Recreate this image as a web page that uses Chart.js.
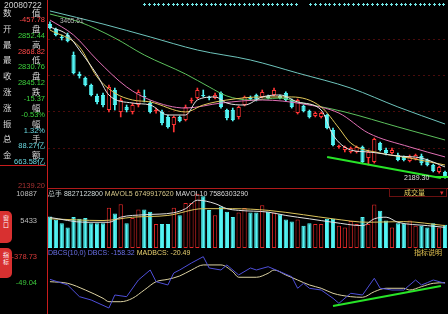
<!DOCTYPE html>
<html>
<head>
<meta charset="utf-8">
<script src="https://cdn.jsdelivr.net/npm/chart.js@4.4.1/dist/chart.umd.min.js"></script>
<style>
body{margin:0;background:#000;width:448px;height:314px;overflow:hidden;position:relative;font-family:"Liberation Sans",Arial,sans-serif}
canvas{position:absolute;left:0}
.t{position:absolute;white-space:nowrap;line-height:1}
.cn{font-family:"Noto Sans CJK SC",sans-serif;font-size:8.5px;color:#d8d8d8}
.num{font-size:7.5px;width:45px;left:0;text-align:right}
.tab{position:absolute;left:0;width:12px;background:#d83030;border-radius:0 5px 5px 0;color:#fff;font-family:"Noto Sans CJK SC",sans-serif;font-size:6px;line-height:7px;text-align:center;padding-top:3px;box-sizing:border-box}
</style>
</head>
<body>
<canvas id="main" width="448" height="188" style="top:0"></canvas>
<canvas id="vol" width="448" height="60" style="top:188px"></canvas>
<canvas id="macd" width="448" height="66" style="top:248px"></canvas>
<div id="overlay"></div>
<script>
// daily candles (price)
var candleOpen  = [3459,3418,3353,3369,3205,3049,3016,2959,2869,2877,2754,2918,2738,2779,2738,2795,2869,2811,2746,2738,2697,2631,2697,2672,2828,2852,2877,2861,2852,2893,2754,2754,2697,2795,2852.44,2877,2861,2869,2877,2869,2893,2836,2729,2787,2746,2705,2697,2713,2590,2451,2426,2410,2410,2451,2360,2328,2483,2426,2401,2385,2369,2336,2352,2377,2344,2303,2246,2246];
var candleHigh  = [3476,3426,3369,3385,3230,3066,3025,2967,2885,2893,2959,2934,2852,2795,2811,2918,2918,2828,2770,2754,2713,2705,2705,2795,2852,2934,2918,2869,2893,2902,2762,2770,2787,2869,2868.82,2885,2918,2877,2934,2877,2902,2844,2844,2795,2754,2738,2738,2721,2606,2467,2459,2451,2459,2459,2426,2524,2491,2442,2442,2401,2377,2385,2393,2393,2352,2311,2295,2254];
var candleLow   = [3418,3361,3328,3312,3049,3016,2951,2869,2803,2779,2738,2754,2697,2738,2721,2779,2820,2729,2729,2631,2606,2574,2656,2664,2811,2844,2861,2836,2844,2770,2672,2664,2680,2787,2830.76,2828,2852,2844,2869,2844,2828,2770,2721,2738,2688,2697,2688,2598,2459,2442,2410,2401,2401,2319,2303,2319,2418,2385,2393,2336,2336,2328,2344,2303,2295,2246,2237,2196];
var candleClose = [3426,3369,3344,3320,3057,3033,2959,2877,2820,2795,2943,2795,2836,2754,2795,2902,2861,2738,2754,2647,2615,2697,2664,2779,2836,2918,2869,2852,2877,2779,2688,2672,2779,2861,2845.12,2836,2902,2852,2918,2852,2836,2779,2836,2746,2697,2729,2729,2606,2467,2459,2451,2442,2451,2328,2410,2516,2426,2401,2426,2344,2344,2369,2385,2319,2303,2254,2287,2205];
var volumes     = [6343,5643,4943,4103,6203,5853,5993,4943,4943,4943,8093,6903,8793,4943,5993,7743,7743,7253,4803,4803,4803,8093,6553,9003,9003,10887,10403,7603,6553,8303,7253,6203,7113,8023,7113,7113,8583,7253,7113,6763,5713,5293,5713,4453,4943,4803,4803,5853,5853,4453,4103,5433,4803,6203,4803,8723,7463,5503,4103,4943,4943,5503,4453,4453,4103,4943,4103,4663];

// moving averages: [day index, value]
var ma5  = [[0,3435],[3,3369],[5,3246],[8,3041],[10,2877],[14,2811],[17,2795],[20,2713],[23,2713],[25,2836],[28,2861],[30,2811],[33,2795],[36,2861],[39,2877],[42,2820],[46,2754],[48,2549],[51,2426],[54,2410],[59,2377],[63,2360],[67,2287]];
var ma10 = [[0,3410],[5,3271],[8,3025],[11,2893],[14,2836],[17,2820],[23,2738],[26,2795],[30,2836],[36,2861],[41,2861],[46,2779],[49,2606],[51,2483],[56,2401],[61,2360],[67,2303]];
var ma20 = [[0,3492],[4,3369],[8,3164],[13,2943],[17,2836],[23,2770],[29,2811],[36,2836],[43,2803],[49,2729],[54,2565],[61,2451],[67,2369]];
var ma30 = [[0,3541],[5,3476],[11,3344],[16,3205],[23,3049],[27,2943],[30,2869],[34,2836],[39,2852],[42,2820],[50,2738],[59,2615],[67,2508]];
var ma60 = [[0,3566],[9,3459],[17,3353],[25,3246],[34,3164],[42,3057],[51,2934],[59,2779],[67,2639]];
var trendMain = [[47,2369],[66.3,2196]];
var mainGrid = [3328,3033,2738,2442];

var mavol5  = [[0,6120],[6,5160],[10,5160],[12,6180],[16,6670],[21,7080],[23,7890],[25,9590],[28,8910],[30,7890],[32,7550],[37,7200],[40,6530],[44,5850],[48,5160],[53,4490],[55,5850],[57,6180],[59,5160],[64,4490],[67,4140]];
var mavol10 = [[0,5850],[9,5510],[14,6180],[20,6530],[26,7890],[31,7890],[37,7550],[43,6670],[48,5850],[54,5160],[60,5300],[67,4490]];
var volTicks = [5433,10887];

var dbcs   = [[0,15],[3,-76],[5,-264],[7,-318],[10,-446],[11,-237],[13,-264],[15,4],[17,165],[18,-23],[20,-76],[21,117],[22,165],[24,278],[26,379],[27,197],[29,165],[30,246],[32,85],[34,197],[35,165],[37,218],[39,138],[41,57],[42,-129],[43,-49],[44,-129],[46,-157],[48,-290],[49,-371],[51,-210],[53,-237],[55,32],[56,-129],[58,-157],[60,-157],[62,4],[63,-76],[64,-39],[65,4],[67,-49]];
var madbcs = [[0,-23],[3,-49],[6,-157],[9,-290],[10,-345],[12,-345],[14,-290],[16,-157],[18,-23],[20,15],[22,69],[24,165],[26,246],[29,246],[31,138],[32,48],[35,48],[37,112],[38,165],[40,85],[42,4],[44,-76],[46,-129],[48,-210],[51,-264],[53,-274],[55,-184],[57,-129],[60,-129],[61,-157],[63,-103],[65,-49],[67,-39]];
var trendMacd = [[48,-414],[66.3,-92]];
var macdTickValues = [378.73,-49.04];
var macdTickLabels = ['-378.73','-49.04'];

var infoLabels = ['数值','开盘','最高','最低','收盘','涨跌','涨幅','振幅','总手','金额'];
var infoValues = ['-457.78','2852.44','2868.82','2830.76','2845.12','-15.37','-0.53%','1.32%','88.27亿','663.58亿'];
var infoColors = ['#ff4848','#3cd23c','#ff4848','#3cd23c','#3cd23c','#3cd23c','#3cd23c','#6ad8e0','#6ad8e0','#6ad8e0'];

var CYAN = '#52f4f4', RED = '#ff3434';
var idx = candleOpen.map(function (_, i) { return i; });
function isUp(i) { return candleClose[i] >= candleOpen[i]; }
function pts(a) { return a.map(function (p) { return {x: p[0], y: p[1]}; }); }
function fixAxis(s) { s.width = 47; s.paddingTop = 0; s.paddingBottom = 0; }
function line(data, color, w, smooth) {
  return {type: 'line', data: pts(data), borderColor: color, borderWidth: w || 1, pointRadius: 0,
    cubicInterpolationMode: smooth ? 'monotone' : 'default', tension: 0, order: 0};
}
var xScale = {type: 'linear', min: -0.5, max: 67.5, offset: false, display: false};
var base = {
  responsive: false, animation: false, devicePixelRatio: 1,
  layout: {padding: 0},
  plugins: {legend: {display: false}, tooltip: {enabled: false}}
};

var dots = {
  id: 'dots',
  afterDraw: function (chart) {
    var c = chart.ctx;
    c.save();
    c.fillStyle = '#70e4e4';
    for (var x = 144; x < 446; x += 4.75) {
      if (x > 296 && x < 306) continue;
      var px = Math.round(x);
      c.fillRect(px - 1, 4, 3, 1);
      c.fillRect(px, 3, 1, 3);
    }
    c.restore();
  }
};

new Chart(document.getElementById('main'), {
  type: 'bar',
  data: {datasets: [
    line(ma5, '#e4e4e4', 1, true),
    line(ma10, '#e2c85a', 1, true),
    line(ma20, '#e070b4', 1, true),
    line(ma30, '#5cc05c', 1, true),
    line(ma60, '#6ec4bc', 1, true),
    line(trendMain, '#28e428', 2, false),
    {data: idx.map(function (i) { return {x: i, y: [candleOpen[i], candleClose[i]]}; }),
     backgroundColor: idx.map(function (i) { return isUp(i) ? '#000' : CYAN; }),
     borderColor: idx.map(function (i) { return isUp(i) ? RED : CYAN; }),
     borderWidth: 1, borderSkipped: false, grouped: false,
     categoryPercentage: 1, barPercentage: 0.72, order: 1},
    {data: idx.map(function (i) { return {x: i, y: [candleLow[i], candleHigh[i]]}; }),
     backgroundColor: idx.map(function (i) { return isUp(i) ? RED : CYAN; }),
     barThickness: 1, grouped: false, order: 2}
  ]},
  options: Object.assign({}, base, {
    scales: {
      x: xScale,
      y: {min: 2114.4, max: 3656, afterFit: fixAxis,
          afterBuildTicks: function (s) { s.ticks = mainGrid.map(function (v) { return {value: v}; }); },
          ticks: {display: false},
          grid: {color: '#4a0c0c', drawTicks: false},
          border: {display: true, color: '#c81c1c', dash: [2, 3]}}
    }
  }),
  plugins: [dots]
});

new Chart(document.getElementById('vol'), {
  type: 'bar',
  data: {datasets: [
    line(mavol5, '#e0e0e0', 1, true),
    line(mavol10, '#dcc45c', 1, true),
    {data: idx.map(function (i) { return {x: i, y: volumes[i]}; }),
     backgroundColor: idx.map(function (i) { return isUp(i) ? '#000' : CYAN; }),
     borderColor: idx.map(function (i) { return isUp(i) ? '#e02828' : CYAN; }),
     borderWidth: 1, borderSkipped: false, grouped: false,
     categoryPercentage: 1, barPercentage: 0.72, order: 1}
  ]},
  options: Object.assign({}, base, {
    scales: {
      x: xScale,
      y: {min: 0, max: 12036, afterFit: fixAxis,
          afterBuildTicks: function (s) { s.ticks = volTicks.map(function (v) { return {value: v}; }); },
          ticks: {padding: 2, color: '#bdbdbd', font: {size: 7.5, family: 'Liberation Sans'},
                  callback: function (v) { return String(v); }},
          grid: {display: false},
          border: {display: true, color: '#c81c1c'}}
    }
  })
});

new Chart(document.getElementById('macd'), {
  type: 'line',
  data: {datasets: [
    line(dbcs, '#4e4ed8', 1, false),
    line(madbcs, '#dcd2a2', 1, true),
    line(trendMacd, '#28e428', 2, false)
  ]},
  options: Object.assign({}, base, {
    scales: {
      x: xScale,
      y: {min: -542.7, max: 518.6, afterFit: fixAxis,
          afterBuildTicks: function (s) { s.ticks = macdTickValues.map(function (v) { return {value: v}; }); },
          ticks: {padding: 2, font: {size: 7.5, family: 'Liberation Sans'},
                  color: function (c) { return c.index === 0 ? '#d83a3a' : '#3cc83c'; },
                  callback: function (v, i) { return macdTickLabels[i]; }},
          grid: {display: false},
          border: {display: true, color: '#c81c1c'}}
    }
  })
});

// text overlays
var ov = document.getElementById('overlay');
function add(html, style, cls) {
  var d = document.createElement('div');
  d.className = 't ' + (cls || '');
  d.innerHTML = html;
  d.setAttribute('style', style);
  ov.appendChild(d);
}
add('20080722', 'left:4px;top:1px;font-size:8.5px;color:#d0d0d0');
infoLabels.forEach(function (lab, k) {
  var y = 8 + k * 15.8;
  add(lab.charAt(0), 'left:3px;top:' + y + 'px', 'cn');
  add(lab.charAt(1), 'left:32px;top:' + y + 'px', 'cn');
  add(infoValues[k], 'top:' + (y + 8) + 'px;color:' + infoColors[k], 'num');
});
add('', 'left:0;top:165px;width:46px;height:1px;background:#c81c1c');
add('2139.20', 'top:182px;color:#a83232', 'num');
add('3465.61', 'left:60px;top:18px;font-size:6.5px;color:#b8b8b8');
add('2189.30', 'left:404px;top:174px;font-size:7px;color:#e0e0e0');
add('', 'left:436px;top:176px;width:12px;height:2px;background:#28e428');
add('', 'left:47px;top:188px;width:401px;height:1px;background:#b01a1a');
add('<span style="color:#cfd8d8">总手 8827122800</span> <span style="color:#d6c88a">MAVOL5 6749917620</span> <span style="color:#d8d8d8">MAVOL10 7586303290</span>',
    'left:48px;top:190px;font-size:7px');
add('', 'left:389px;top:188px;width:58px;height:9px;border:1px solid #6a1010;box-sizing:border-box');
add('成交量', 'left:404px;top:189px;font-size:7px;color:#e8d060;font-family:"Noto Sans CJK SC"');
add('▾', 'left:440px;top:189px;font-size:7px;color:#e03030');
add('<span style="color:#6a70e8">DBCS(10,0) DBCS: -158.32</span> <span style="color:#e8d070">MADBCS: -20.49</span>',
    'left:48px;top:249px;font-size:7px');
add('指标说明', 'left:414px;top:249px;font-size:7px;color:#e0c050;font-family:"Noto Sans CJK SC"');
add('窗<br>口', 'top:211px;height:32px', 'tab');
add('指<br>标', 'top:248px;height:30px', 'tab');
</script>
</body>
</html>
